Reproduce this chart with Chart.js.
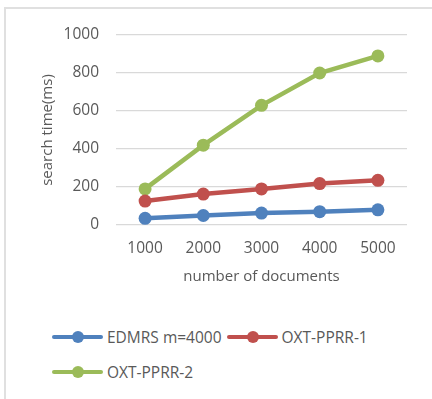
<!DOCTYPE html>
<html lang="en">
<head>
    <meta charset="UTF-8">
    <title>Search time</title>
    <style>
        body {
            margin: 0;
            background: #fff;
            font-family: "Open Sans", sans-serif;
        }
        #wrap {
            position: relative;
            width: 432px;
            height: 399px;
            overflow: hidden;
        }
        #frame {
            position: absolute;
            left: 4px;
            top: 7px;
            width: 440px;
            height: 400px;
            border-left: 2px solid #e0e0e0;
            border-top: 2px solid #e0e0e0;
        }
        #searchChart {
            position: absolute;
            left: 0;
            top: 0;
        }
        #legend {
            position: absolute;
            left: 52px;
            top: 327px;
            width: 340px;
            display: flex;
            flex-wrap: wrap;
        }
        .item {
            display: flex;
            align-items: center;
            height: 20px;
            margin-right: 5px;
            margin-bottom: 15px;
            color: #595959;
            font-size: 15.5px;
            white-space: nowrap;
        }
        .mark {
            position: relative;
            width: 51px;
            height: 4px;
            border-radius: 2px;
            margin-right: 4px;
        }
        .mark span {
            position: absolute;
            left: 20px;
            top: -4px;
            width: 12px;
            height: 12px;
            border-radius: 50%;
            background: inherit;
        }
    </style>
    <script src="https://cdn.jsdelivr.net/npm/chart.js"></script>
</head>
<body>
<div id="wrap">
    <div id="frame"></div>
    <canvas id="searchChart" width="432" height="300"></canvas>
    <div id="legend"></div>
</div>
<script>
    // data
    const docs = ['1000', '2000', '3000', '4000', '5000'];
    const edmrs = [35, 50, 63, 70, 80];
    const oxt1 = [126, 163, 190, 218, 235];
    const oxt2 = [190, 420, 630, 800, 890];
    const yTicks = [0, 200, 400, 600, 800, 1000];

    const seriesNames = ['EDMRS m=4000', 'OXT-PPRR-1', 'OXT-PPRR-2'];
    const seriesColors = ['#4F81BD', '#C0504D', '#9BBB59'];
    const seriesData = [edmrs, oxt1, oxt2];

    const textColor = '#595959';
    const gridColor = '#d9d9d9';

    const datasets = seriesData.map((d, i) => ({
        label: seriesNames[i],
        data: d,
        borderColor: seriesColors[i],
        backgroundColor: seriesColors[i],
        borderWidth: 4.5,
        pointRadius: 6.5,
        pointHoverRadius: 6.5,
        pointBorderWidth: 0,
        tension: 0
    }));

    new Chart(document.getElementById('searchChart').getContext('2d'), {
        type: 'line',
        data: { labels: docs, datasets: datasets },
        options: {
            responsive: false,
            animation: false,
            layout: { padding: { left: 0, right: 25, top: 35, bottom: 0 } },
            plugins: {
                legend: { display: false },
                tooltip: { enabled: false }
            },
            scales: {
                x: {
                    offset: true,
                    grid: { display: false, drawTicks: false },
                    border: { display: false },
                    ticks: {
                        color: textColor,
                        font: { family: 'Open Sans', size: 15.5 },
                        padding: 14
                    },
                    title: {
                        display: true,
                        text: 'number of documents',
                        color: textColor,
                        font: { family: 'Open Sans', size: 15 },
                        padding: { top: 4, bottom: 14 }
                    },
                    afterFit: s => { s.height = 75; }
                },
                y: {
                    min: 0,
                    max: 1000,
                    afterBuildTicks: s => { s.ticks = yTicks.map(v => ({ value: v })); },
                    grid: { color: gridColor, lineWidth: 1.3, drawTicks: false },
                    border: { display: false },
                    ticks: {
                        color: textColor,
                        font: { family: 'Open Sans', size: 15.5 },
                        padding: 17,
                        callback: v => String(v)
                    },
                    title: {
                        display: true,
                        text: 'search time(ms)',
                        color: textColor,
                        font: { family: 'Open Sans', size: 15 },
                        padding: { top: 39, bottom: 0 }
                    },
                    afterFit: s => { s.width = 116; }
                }
            }
        }
    });

    // html legend, built from the series names
    const legend = document.getElementById('legend');
    seriesNames.forEach((name, i) => {
        const item = document.createElement('div');
        item.className = 'item';
        const mark = document.createElement('div');
        mark.className = 'mark';
        mark.style.background = seriesColors[i];
        mark.appendChild(document.createElement('span'));
        const label = document.createElement('div');
        label.textContent = name;
        item.appendChild(mark);
        item.appendChild(label);
        legend.appendChild(item);
    });
</script>
</body>
</html>
